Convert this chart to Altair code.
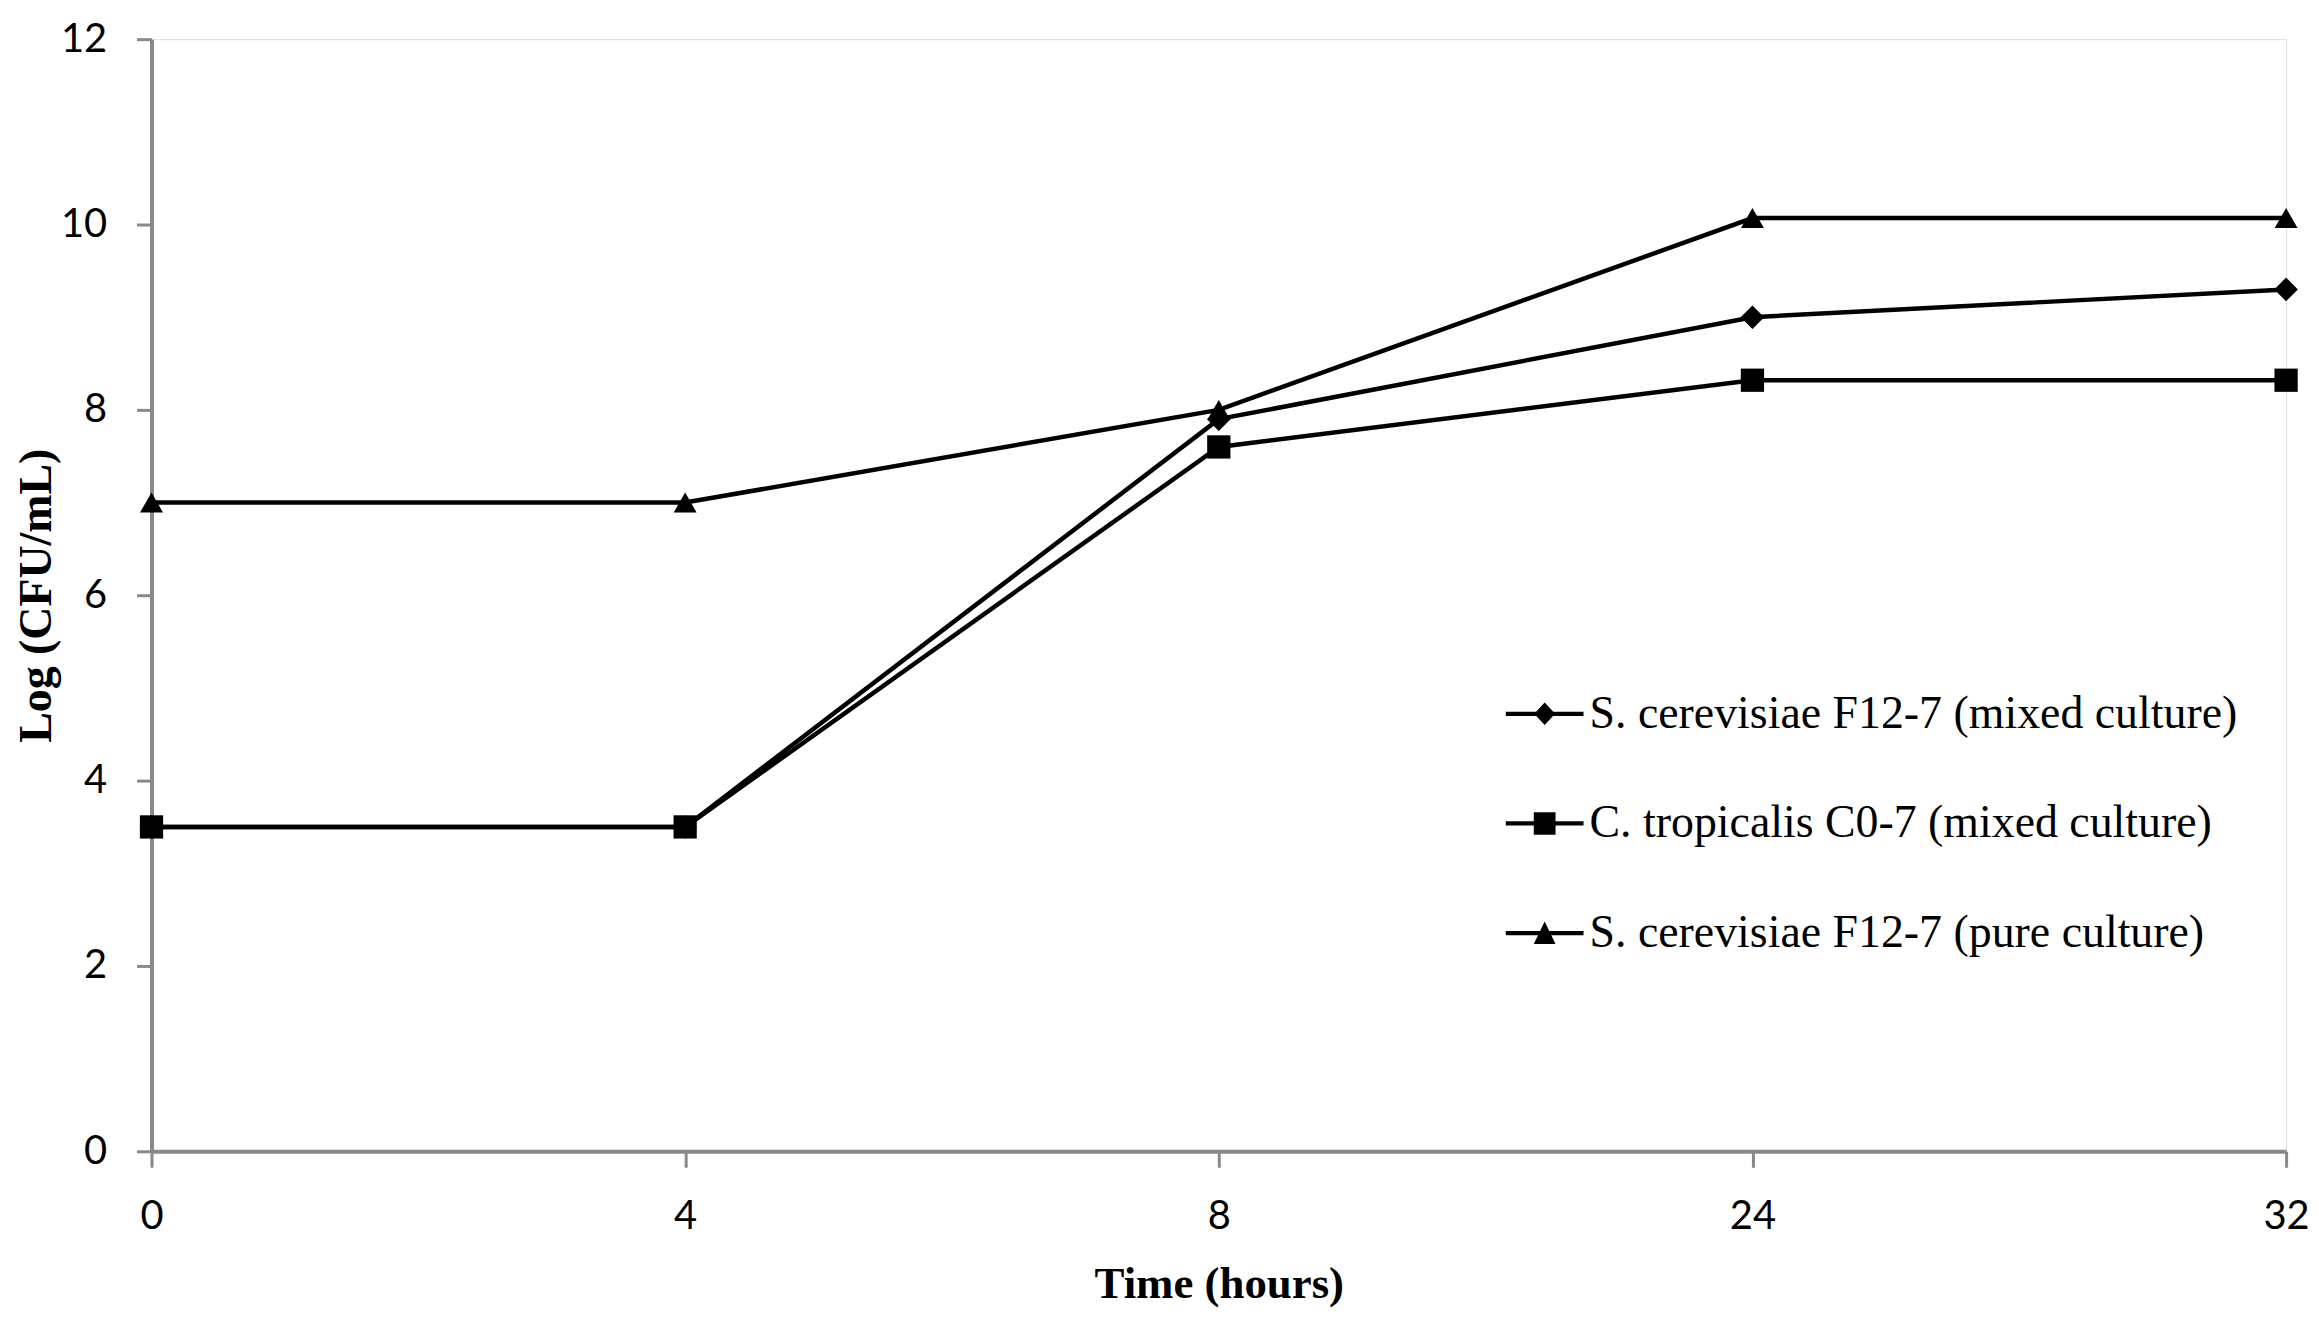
import altair as alt
import pandas as pd

times = ["0", "4", "8", "24", "32"]
series = [
    "S. cerevisiae F12-7 (mixed culture)",
    "C. tropicalis C0-7 (mixed culture)",
    "S. cerevisiae F12-7 (pure culture)",
]
sc_mixed = [3.5, 3.5, 7.9, 9.0, 9.3]
ct_mixed = [3.5, 3.5, 7.6, 8.32, 8.32]
sc_pure = [7.0, 7.0, 8.0, 10.07, 10.07]

rows = []
for name, vals in zip(series, [sc_mixed, ct_mixed, sc_pure]):
    for t, v in zip(times, vals):
        rows.append({"Time": t, "Value": v, "Series": name})
df = pd.DataFrame(rows)

SERIF = "Liberation Serif"
SANS = "Lato"
GRAY = "#898989"

x = alt.X("Time:O", sort=times, title="Time (hours)",
          scale=alt.Scale(padding=0),
          axis=alt.Axis(labelAngle=0, labelFontSize=40, labelFont=SANS, labelColor="black",
                        titleFontSize=45, titleFont=SERIF, titleFontWeight="bold", titleColor="black",
                        domainColor=GRAY, domainWidth=4, tickColor=GRAY, tickWidth=3,
                        tickSize=16, labelPadding=29, titlePadding=26, grid=False))
y = alt.Y("Value:Q", title="Log (CFU/mL)",
          scale=alt.Scale(domain=[0, 12], nice=False),
          axis=alt.Axis(values=[0, 2, 4, 6, 8, 10, 12], labelFontSize=40, labelFont=SANS,
                        labelColor="black", titleFontSize=46, titleFont=SERIF, titleFontWeight="bold",
                        titleColor="black", domainColor=GRAY, domainWidth=4, tickColor=GRAY,
                        tickWidth=3, tickSize=15, labelPadding=30, titlePadding=0, grid=False))

color = alt.Color("Series:N", sort=series, scale=alt.Scale(domain=series, range=["black"] * 3), legend=None)

lines = alt.Chart(df).mark_line(strokeWidth=4.5).encode(x=x, y=y, color=color, detail="Series:N")

points = alt.Chart(df).mark_point(filled=True, opacity=1).encode(
    x=x, y=y, color=color,
    shape=alt.Shape("Series:N", sort=series,
                    scale=alt.Scale(domain=series, range=["diamond", "square", "triangle-up"]),
                    legend=None),
    size=alt.Size("Series:N", sort=series,
                  scale=alt.Scale(domain=series, range=[560, 529, 640]), legend=None),
)

legend_paths = [
    "M-1,-0.055L1,-0.055L1,0.055L-1,0.055Z M0,-0.29L0.27,0L0,0.29L-0.27,0Z",
    "M-1,-0.055L1,-0.055L1,0.055L-1,0.055Z M-0.28,-0.29L0.28,-0.29L0.28,0.29L-0.28,0.29Z",
    "M-1,-0.055L1,-0.055L1,0.055L-1,0.055Z M0,-0.30L0.28,0.28L-0.28,0.28Z",
]

legend_layer = alt.Chart(df).mark_point(
    filled=False, color="black", fill="black", stroke="black", strokeWidth=0
).encode(
    x=x, y=y,
    shape=alt.Shape("Series:N", sort=series,
                    scale=alt.Scale(domain=series, range=legend_paths),
                    legend=alt.Legend(title=None, orient="none", legendX=1359, legendY=638,
                                      labelFont=SERIF, labelFontSize=46, labelColor="black",
                                      symbolSize=6084, labelOffset=6,
                                      symbolFillColor="black", symbolStrokeColor="black",
                                      symbolStrokeWidth=0, symbolOpacity=1,
                                      rowPadding=48, labelLimit=1000)),
    size=alt.value(0),
)

chart = alt.layer(lines, points, legend_layer).resolve_scale(shape="independent").properties(
    width=2142, height=1116,
    autosize=alt.AutoSizeParams(type="none"),
    padding={"left": 144, "top": 29, "right": 25, "bottom": 159},
).configure_view(stroke=None).configure(background="white")

chart.save("out.html", embed_options={"renderer": "svg", "actions": False})
